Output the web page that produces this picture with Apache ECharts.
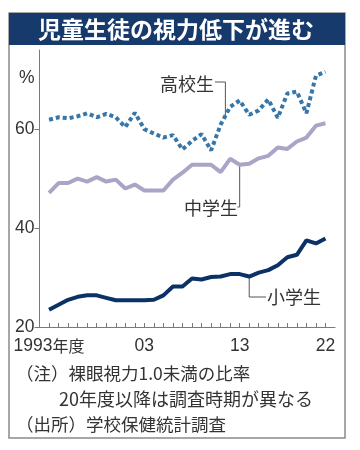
<!DOCTYPE html>
<html><head><meta charset="utf-8">
<script src="https://cdn.jsdelivr.net/npm/echarts@6/dist/echarts.min.js"></script>
<style>html,body{margin:0;padding:0;background:#fff}#c{width:360px;height:450px}</style>
</head><body><div id="c"></div>
<script>
const titleText = '児童生徒の視力低下が進む';
const years = [1993,1994,1995,1996,1997,1998,1999,2000,2001,2002,2003,2004,2005,2006,2007,2008,2009,2010,2011,2012,2013,2014,2015,2016,2017,2018,2019,2020,2021,2022];
const highSchool = [61.9,62.4,62.2,62.6,63.2,62.4,63.1,62.4,60.4,63.3,60.0,59.1,58.3,58.8,55.9,57.6,59.0,55.7,60.9,64.5,65.8,62.9,63.8,66.0,62.3,67.2,67.6,63.2,70.8,71.6];
const middleSchool = [47.1,49.1,49.1,50.0,49.4,50.3,49.4,49.8,48.0,48.8,47.6,47.6,47.6,49.8,51.2,52.8,52.8,52.8,51.3,54.0,52.8,53.0,54.1,54.6,56.3,56.0,57.5,58.3,60.7,61.2];
const elementary = [23.5,24.5,25.5,26.1,26.4,26.4,25.9,25.4,25.4,25.4,25.4,25.5,26.4,28.2,28.2,29.8,29.6,30.1,30.2,30.7,30.7,30.2,31.0,31.5,32.5,34.1,34.6,37.5,36.9,37.9];
const seriesNames = ['高校生','中学生','小学生'];
const xTickValues = [1993,2003,2013,2022];
const xTickLabels = ['1993年度','03','13','22'];
const yTickValues = [20,40,60];
const yUnit = '%';
const noteLines = ['（注）裸眼視力1.0未満の比率','20年度以降は調査時期が異なる','（出所）学校保健統計調査'];

const CJK = '"Noto Sans CJK JP","Noto Sans CJK SC",sans-serif';
// pick a narrow face for the axis figures if one is installed
const mctx = document.createElement('canvas').getContext('2d');
mctx.font = '20px "Liberation Sans Narrow", monospace';
const wN = mctx.measureText('1993').width;
mctx.font = '20px monospace';
const wM = mctx.measureText('1993').width;
const hasNarrow = Math.abs(wN - wM) > 0.5;
const NUMF = hasNarrow ? '"Liberation Sans Narrow",sans-serif' : '"Liberation Sans",sans-serif';
const NUMS = hasNarrow ? 20 : 17.5;
const TXT = '#333';
const AX = '#7a7a7a';

const chart = echarts.init(document.getElementById('c'), null, {renderer: 'canvas'});
const pair = arr => years.map((y, i) => [y, arr[i]]);

chart.setOption({
  animation: false,
  backgroundColor: '#fff',
  grid: {left: 39.5, right: 25, top: 50, bottom: 123},
  xAxis: {
    type: 'value', min: 1992, max: 2023, interval: 1,
    axisLine: {show: true, lineStyle: {color: AX, width: 1}},
    axisTick: {show: true, inside: true, length: 4, customValues: years, lineStyle: {color: AX, width: 1}},
    axisLabel: {
      customValues: xTickValues,
      formatter: v => {
        const s = xTickLabels[xTickValues.indexOf(v)] || '';
        const m = s.match(/^(\d+)(.*)$/);
        return m && m[2] ? '{n|' + m[1] + '}{c|' + m[2] + '}' : '{n|' + s + '}';
      },
      margin: 8, color: TXT, fontFamily: NUMF, fontSize: NUMS,
      rich: {
        n: {fontFamily: NUMF, fontSize: NUMS, color: TXT, verticalAlign: 'bottom', lineHeight: 20},
        c: {fontFamily: CJK, fontSize: 16, color: TXT, verticalAlign: 'bottom', lineHeight: 20, padding: [0, 0, 1, 0]}
      }
    },
    splitLine: {show: false}
  },
  yAxis: {
    type: 'value', min: 20, max: 76, interval: 20,
    name: yUnit, nameLocation: 'end', nameGap: -28,
    nameTextStyle: {align: 'right', verticalAlign: 'middle', padding: [0, 5, 0, 0], color: TXT, fontFamily: NUMF, fontSize: NUMS},
    axisLine: {show: true, lineStyle: {color: AX, width: 1}},
    axisTick: {show: true, inside: false, length: 5, customValues: yTickValues, lineStyle: {color: AX, width: 1}},
    axisLabel: {customValues: yTickValues, margin: 5, color: TXT, fontFamily: NUMF, fontSize: NUMS},
    splitLine: {show: false}
  },
  series: [
    {name: seriesNames[1], type: 'line', data: pair(middleSchool), showSymbol: false, symbol: 'none',
     lineStyle: {color: '#a9a5c6', width: 4}, z: 2},
    {name: seriesNames[2], type: 'line', data: pair(elementary), showSymbol: false, symbol: 'none',
     lineStyle: {color: '#0b3266', width: 4}, z: 3},
    {name: seriesNames[0], type: 'line', data: pair(highSchool), showSymbol: false, symbol: 'none',
     lineStyle: {color: '#3676a8', width: 4, type: [4, 3], cap: 'butt'}, z: 4}
  ]
});

const px = p => chart.convertToPixel({gridIndex: 0}, p);
const iHS = years.indexOf(2011);
const aHS = px([2011.5, (highSchool[iHS] + highSchool[iHS + 1]) / 2]);
const aMS = px([2013, middleSchool[years.indexOf(2013)]]);
const aEL = px([2014, elementary[years.indexOf(2014)]]);

const txt = (text, x, y, align, size, fill, weight) => ({
  type: 'text', x: x, y: y, silent: true,
  style: {text: text, fill: fill || TXT, fontSize: size, fontFamily: CJK, fontWeight: weight || 'normal',
          align: align, verticalAlign: 'middle', textAlign: align, textVerticalAlign: 'middle'}
});
const lead = pts => ({type: 'polyline', silent: true, shape: {points: pts}, style: {stroke: '#555', lineWidth: 1, fill: null}});

chart.setOption({
  graphic: {elements: [
    {type: 'rect', silent: true, shape: {x: 9, y: 13, width: 336, height: 425}, style: {fill: 'none', stroke: '#8a8a8a', lineWidth: 1.5}, z: 100},
    {type: 'rect', silent: true, shape: {x: 9, y: 13, width: 336, height: 32}, style: {fill: '#163a6c'}, z: 101},
    Object.assign(txt(titleText, 176, 29.5, 'center', 23, '#fff', 'bold'), {z: 102}),
    txt(noteLines[0], 16, 373.5, 'left', 17.5),
    txt(noteLines[1], 59, 399, 'left', 18),
    txt(noteLines[2], 16, 424.5, 'left', 17.5),
    txt(seriesNames[0], 214, 84, 'right', 18),
    lead([[215, 82], [aHS[0], 82], [aHS[0], aHS[1]]]),
    txt(seriesNames[1], 238, 208, 'right', 18),
    lead([[aMS[0], aMS[1]], [aMS[0], 207], [237.5, 207]]),
    txt(seriesNames[2], 267, 297, 'left', 18),
    lead([[aEL[0], aEL[1]], [aEL[0], 297], [266, 297]])
  ]}
});
</script>
</body></html>
